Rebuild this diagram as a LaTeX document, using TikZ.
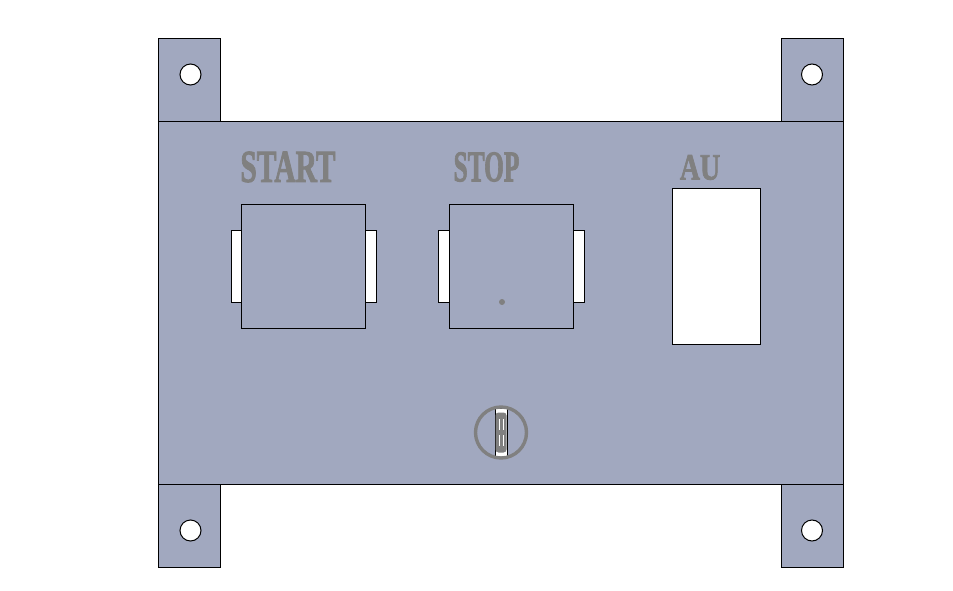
\documentclass[tikz,border=0pt]{standalone}
\usepackage{fontspec}
\setmainfont{Liberation Serif}
\newfontfamily\markfont[FakeBold=2.2]{Liberation Serif Bold}
\definecolor{plate}{HTML}{A1A8BF}
\definecolor{mark}{HTML}{808080}
\tikzset{
  part/.style={rectangle,draw=black,fill=plate,line width=1pt,inner sep=0pt},
  tab/.style={part,minimum width=62pt,minimum height=83pt},
  button/.style={part,minimum width=124.5pt,minimum height=124pt},
  slot/.style={rectangle,draw=black,fill=white,line width=1pt,inner sep=0pt,minimum width=145.5pt,minimum height=72pt},
  hole/.style={circle,draw=black,fill=white,line width=1pt,inner sep=0pt,minimum size=21pt},
  label/.style={text=mark,font=\markfont,inner sep=0pt}
}
\begin{document}
\begin{tikzpicture}[x=1pt,y=-1pt]
                    \useasboundingbox (0,0) rectangle (953,591);
                    %TABS
                    \node[tab] (TL) at (189,80){};
                    \node[tab] (TR) at (812,80){};
                    \node[tab] (BL) at (189,525.5){};
                    \node[tab] (BR) at (812,525.5){};
                    \node[hole] (HTL) at (190.5,74.5){};
                    \node[hole] (HTR) at (812,74.5){};
                    \node[hole] (HBL) at (190.5,530.5){};
                    \node[hole] (HBR) at (812,530.5){};

                    %PLATE
                    \node[part,minimum width=685pt,minimum height=362.5pt] (P) at (500.5,302.75){};

                    %BUTTONS
                    \node[slot] (SA) at (303.75,266){};
                    \node[slot,minimum width=146.5pt] (SB) at (511.25,266){};
                    \node[button] (A) at (303.5,266){};
                    \node[button] (B) at (511.5,266){};
                    \node[rectangle,draw=black,fill=white,line width=1pt,inner sep=0pt,minimum width=88pt,minimum height=156pt] (W) at (716,266){};
                    \node[circle,fill=mark,inner sep=0pt,minimum size=6pt] (D) at (502,302){};

                    %TEXT
                    \node[label,xscale=1.0,yscale=1.55] (TA) at (288,167){\fontsize{29.5}{29.5}\selectfont START};
                    \node[label,xscale=0.94,yscale=1.62] (TB) at (486.5,167){\fontsize{27}{27}\selectfont STOP};
                    \node[label,xscale=0.98,yscale=1.3] (TC) at (700,167.5){\fontsize{28.5}{28.5}\selectfont AU};

                    %SCREW
                    \node[rectangle,fill=white,draw=black,line width=0.8pt,inner sep=0pt,minimum width=12pt,minimum height=49pt] (K) at (501,432.5){};
                    \node[circle,draw=mark,line width=3.4pt,inner sep=0pt,minimum size=51pt] (C) at (501,432.5){};
                    \node[rectangle,rounded corners=3pt,fill=mark,inner sep=0pt,minimum width=11pt,minimum height=40pt] (R) at (501,432.5){};
                    \draw[white,line width=0.8pt] (499,419) -- (499,430) (499,435) -- (499,446);
                    \draw[white,line width=0.8pt] (503,419) -- (503,430) (503,435) -- (503,446);
                \end{tikzpicture}
\end{document}
